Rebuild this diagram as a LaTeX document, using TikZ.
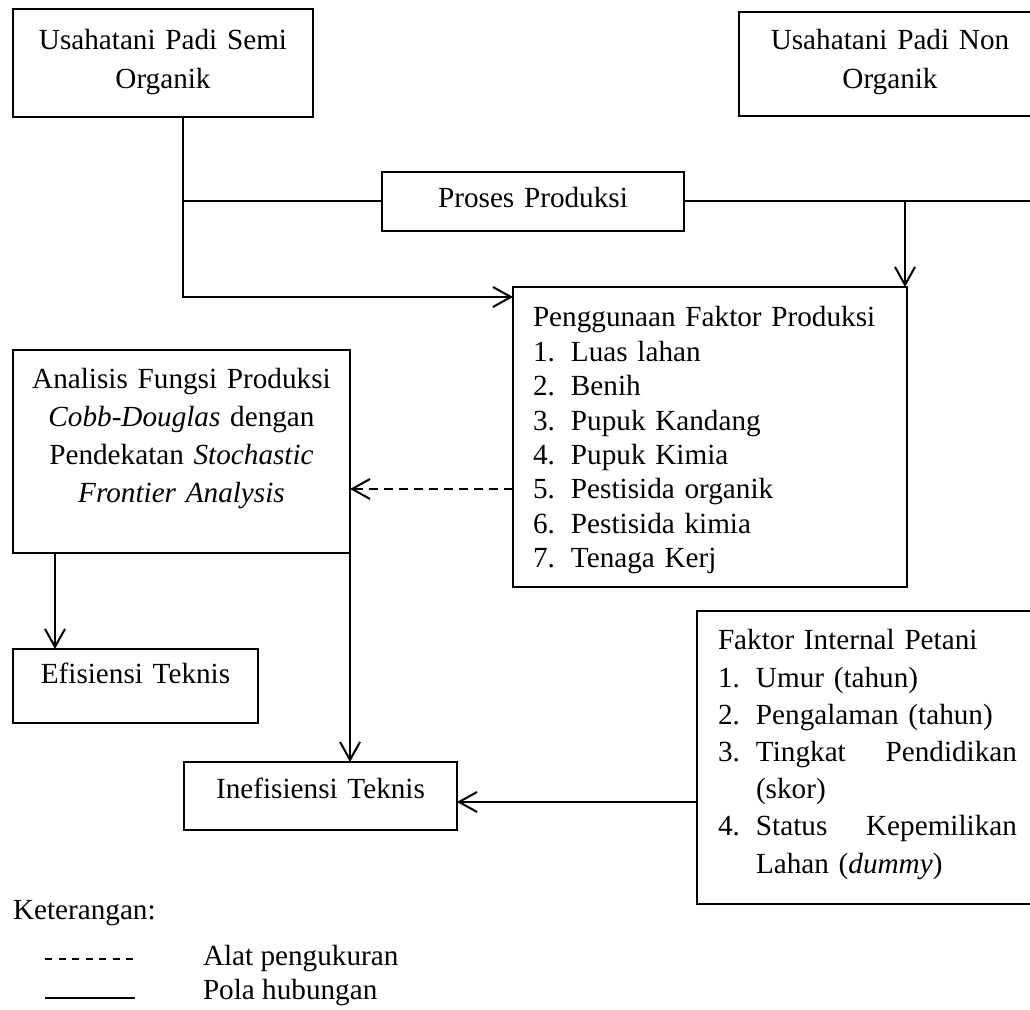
\documentclass[tikz,border=0pt]{standalone}
\usepackage{fontspec}
\setmainfont{Liberation Serif}
\usetikzlibrary{arrows.meta}
\newcommand{\butir}[1]{\makebox[19pt][l]{#1}}

\begin{document}
\begin{tikzpicture}[x=0.5pt,y=-0.5pt,line width=1pt,>={Straight Barb[length=9pt,width=10pt]},
  every node/.style={font=\fontsize{14.6}{19.5}\selectfont,inner sep=0pt,outer sep=0pt},
  kotak/.style={draw,line width=1.1pt,anchor=north west,align=center}]
  \useasboundingbox (0,0) rectangle (1030,1010);
  % kotak usahatani
  \node[kotak,text width=150pt,text height=20.5pt,text depth=33.5pt] (semi) at (13,9) {Usahatani Padi Semi\\Organik};
  \node[kotak,text width=151pt,text height=19pt,text depth=33pt] (non) at (739,12) {Usahatani Padi Non\\Organik};
  \node[kotak,text width=151pt,text height=18pt,text depth=11.5pt] (proses) at (382,172) {Proses Produksi};
  % faktor produksi
  \node[kotak,align=left,inner xsep=10pt,text width=177pt,text height=20pt,text depth=130pt,font=\fontsize{14.6}{17.2}\selectfont] (pgn) at (513,287) {Penggunaan Faktor Produksi\\
    \butir{1.}Luas lahan\\\butir{2.}Benih\\\butir{3.}Pupuk Kandang\\\butir{4.}Pupuk Kimia\\
    \butir{5.}Pestisida organik\\\butir{6.}Pestisida kimia\\\butir{7.}Tenaga Kerj};
  \node[kotak,text width=168.5pt,text height=19.5pt,text depth=82pt,font=\fontsize{14.6}{19}\selectfont] (ana) at (13,350) {Analisis Fungsi Produksi\\\textit{Cobb-Douglas} dengan\\Pendekatan \textit{Stochastic}\\\textit{Frontier Analysis}};
  \node[kotak,text width=122.5pt,text height=17.5pt,text depth=19.5pt] (eff) at (13,649) {Efisiensi Teknis};
  \node[kotak,text width=136.5pt,text height=18.5pt,text depth=15.5pt] (inef) at (184,762) {Inefisiensi Teknis};
  \node[kotak,align=left,inner xsep=10.5pt,text width=149.5pt,text height=19.5pt,text depth=127pt,font=\fontsize{14.6}{18.6}\selectfont] (fak) at (697,611) {Faktor Internal Petani\\
    \butir{1.}Umur (tahun)\\\butir{2.}Pengalaman (tahun)\\
    \butir{3.}\makebox[130.5pt][s]{Tingkat\hfill Pendidikan}\\\hspace*{19pt}(skor)\\
    \butir{4.}\makebox[130.5pt][s]{Status\hfill Kepemilikan}\\\hspace*{19pt}Lahan (\textit{dummy})};
  % hubungan
  \draw[->] ([xshift=10pt]semi.south) |- ([yshift=-5pt]pgn.north west);
  \draw ([xshift=10pt]semi.south |- proses.west) -- (proses.west);
  \draw (proses.east) -| ([xshift=-3pt]non.south east);
  \draw[->] ([xshift=-1pt]pgn.north east |- proses.east) -- ([xshift=-1pt]pgn.north east);
  \draw[->,dash pattern=on 4.5pt off 3pt] ([yshift=-26pt]pgn.west) -- ([yshift=-26pt]pgn.west -| ana.east);
  \draw[->] ([xshift=21pt]ana.south west) -- ([xshift=21pt]eff.north west);
  \draw[->] (ana.south east) -- (ana.south east |- inef.north);
  \draw[->] ([yshift=-3pt]inef.east -| fak.west) -- ([yshift=-3pt]inef.east);
  % keterangan
  \node[anchor=base west] (ket) at (13,920) {Keterangan:};
  \node[anchor=base west] (alat) at (203,966) {Alat pengukuran};
  \node[anchor=base west] (pola) at (203,1000) {Pola hubungan};
  \draw[line width=0.6pt,dash pattern=on 3.5pt off 3.25pt] ([xshift=-79pt,yshift=3.5pt]alat.base west) -- ([xshift=-34pt,yshift=3.5pt]alat.base west);
  \draw[line width=1.2pt] ([xshift=-79pt,yshift=1pt]pola.base west) -- ([xshift=-34pt,yshift=1pt]pola.base west);
\end{tikzpicture}
\end{document}
